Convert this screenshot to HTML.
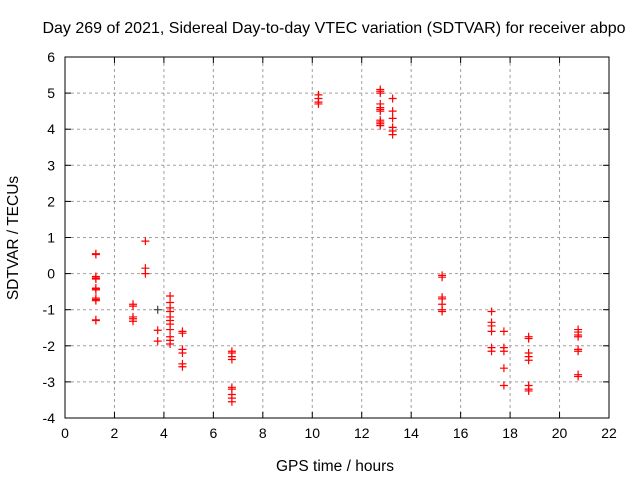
<!DOCTYPE html>
<html><head><meta charset="utf-8"><style>
body{margin:0;background:#fff;width:640px;height:480px;overflow:hidden}
svg{font-family:"Liberation Sans",sans-serif}
</style></head><body>
<svg id="chart" width="640" height="480">
<text x="334" y="33" font-size="16" text-anchor="middle">Day 269 of 2021, Sidereal Day-to-day VTEC variation (SDTVAR) for receiver abpo</text>
<text x="335" y="471" font-size="15.5" text-anchor="middle">GPS time / hours</text>
<text transform="translate(18,238) rotate(-90)" font-size="15.5" text-anchor="middle">SDTVAR / TECUs</text>
<g id="grid"></g><g id="ticks"></g><g id="marks"></g>
<rect x="65" y="57" width="544" height="361" fill="none" stroke="#000"/>
</svg>
<script>
const xTicks=[0,2,4,6,8,10,12,14,16,18,20,22];
const yTicks=[-4,-3,-2,-1,0,1,2,3,4,5,6];
const hours=[1.25,2.75,3.25,3.75,4.25,4.75,6.75,10.25,12.75,13.25,15.25,17.25,17.75,18.75,20.75];
const values=[
[0.55,0.53,-0.08,-0.12,-0.15,-0.4,-0.45,-0.42,-0.68,-0.72,-0.75,-1.28,-1.3],
[-0.85,-0.9,-1.2,-1.25,-1.32],
[0.9,0.15,0.0],
[-1.57,-1.87],
[-0.62,-0.8,-0.95,-1.05,-1.2,-1.3,-1.4,-1.55,-1.75,-1.85,-1.95],
[-1.6,-1.65,-2.1,-2.2,-2.5,-2.58],
[-2.15,-2.2,-2.3,-2.38,-3.15,-3.2,-3.35,-3.45,-3.55],
[4.95,4.85,4.75,4.7],
[5.1,5.05,5.0,4.7,4.6,4.55,4.5,4.25,4.2,4.15,4.1],
[4.85,4.5,4.3,4.05,3.95,3.85],
[-0.05,-0.1,-0.65,-0.7,-0.85,-1.0,-1.05],
[-1.05,-1.35,-1.45,-1.6,-2.05,-2.15],
[-1.6,-2.05,-2.15,-2.62,-3.1],
[-1.75,-1.8,-2.2,-2.3,-2.4,-3.1,-3.2,-3.25],
[-1.55,-1.62,-1.7,-1.75,-2.1,-2.15,-2.8,-2.85]];
const darkHours=[3.75];
const darkValues=[-1.0];
const L=65,R=609,T=57,B=418;
const xs=v=>L+(v-0)/(22-0)*(R-L);
const ys=v=>B-(v+4)/10*(B-T);
const NS="http://www.w3.org/2000/svg";
function mk(tag,attrs,parent){const e=document.createElementNS(NS,tag);for(const k in attrs)e.setAttribute(k,attrs[k]);parent.appendChild(e);return e;}
const grid=document.getElementById('grid'),ticks=document.getElementById('ticks'),marks=document.getElementById('marks');
xTicks.forEach(t=>{const x=xs(t);
 if(t>0&&t<22){const g=mk('line',{x1:x,x2:x,y1:T,y2:B,stroke:'#a0a0a0','stroke-dasharray':'3,3'},grid);
 
 }
 mk('line',{x1:x,x2:x,y1:B,y2:B-6,stroke:'#000'},ticks);mk('line',{x1:x,x2:x,y1:T,y2:T+6,stroke:'#000'},ticks);
 const tx=mk('text',{x:x,y:B+20,'font-size':14,'text-anchor':'middle'},ticks);tx.textContent=t;
 
 });
yTicks.forEach(t=>{const y=ys(t);
 if(t>-4&&t<6){const g=mk('line',{x1:L,x2:R,y1:y,y2:y,stroke:'#a0a0a0','stroke-dasharray':'3,3'},grid);
 
 }
 mk('line',{x1:L,x2:L+6,y1:y,y2:y,stroke:'#000'},ticks);mk('line',{x1:R,x2:R-6,y1:y,y2:y,stroke:'#000'},ticks);
 const tx=mk('text',{x:L-10,y:y+5,'font-size':14,'text-anchor':'end'},ticks);tx.textContent=t;
 
 });
function plus(h,v,col){const x=xs(h),y=ys(v);
 const p=mk('path',{d:`M${x-4},${y}H${x+4}M${x},${y-4}V${y+4}`,stroke:col,'stroke-width':1.2,fill:'none'},marks);
 
 }
hours.forEach((h,i)=>values[i].forEach(v=>plus(h,v,'#ff0000')));
darkHours.forEach((h,i)=>plus(h,darkValues[i],'#404040'));
</script>
</body></html>
